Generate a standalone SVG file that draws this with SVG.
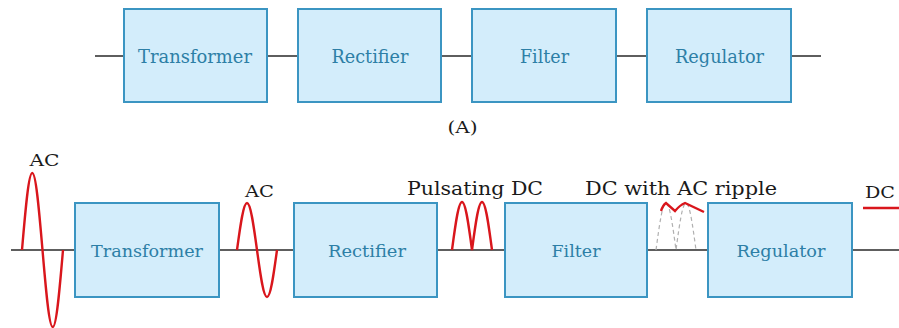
<svg xmlns="http://www.w3.org/2000/svg" width="899" height="328" viewBox="0 0 899 328">
<style>
.box{fill:#d3edfb;stroke:#3b95c2;stroke-width:2}
.bl{font-family:"DejaVu Serif","Liberation Serif",serif;font-size:18px;fill:#2d7fa6;text-anchor:middle}
.bl2{font-family:"DejaVu Serif","Liberation Serif",serif;font-size:17px;fill:#2d7fa6;text-anchor:middle}
.lbl{font-family:"DejaVu Serif","Liberation Serif",serif;font-size:18px;fill:#1a1a1a;text-anchor:middle}
.sm{font-size:16px}
.wire{stroke:#2a2a2a;stroke-width:1.6;fill:none}
.wave{stroke:#d9161c;stroke-width:2.4;fill:none}
.dash{stroke:#b0b0b0;stroke-width:1.2;stroke-dasharray:4 3;fill:none}
</style>
<rect width="899" height="328" fill="#ffffff"/>
<g id="connectors">
<path class="wire" d="M95,56H124M267,56H298M441,56H472M616,56H647M791,56H821"/>
<path class="wire" d="M11,250H75M219,250H294M437,250H505M647,250H708M852,250H899"/>
</g>
<g id="top-transformer"><rect class="box" x="124" y="9" width="143" height="93"/><text class="bl" x="195" y="63" textLength="114" lengthAdjust="spacingAndGlyphs">Transformer</text></g>
<g id="top-rectifier"><rect class="box" x="298" y="9" width="143" height="93"/><text class="bl" x="370" y="63" textLength="77" lengthAdjust="spacingAndGlyphs">Rectifier</text></g>
<g id="top-filter"><rect class="box" x="472" y="9" width="144" height="93"/><text class="bl" x="544.5" y="63" textLength="49" lengthAdjust="spacingAndGlyphs">Filter</text></g>
<g id="top-regulator"><rect class="box" x="647" y="9" width="144" height="93"/><text class="bl" x="719.5" y="63" textLength="89" lengthAdjust="spacingAndGlyphs">Regulator</text></g>
<text class="lbl sm" x="462.5" y="133" textLength="30" lengthAdjust="spacingAndGlyphs">(A)</text>
<g id="bottom-transformer"><rect class="box" x="75" y="203" width="144" height="94"/><text class="bl2" x="147" y="257" textLength="112" lengthAdjust="spacingAndGlyphs">Transformer</text></g>
<g id="bottom-rectifier"><rect class="box" x="294" y="203" width="143" height="94"/><text class="bl2" x="367" y="257" textLength="78" lengthAdjust="spacingAndGlyphs">Rectifier</text></g>
<g id="bottom-filter"><rect class="box" x="505" y="203" width="142" height="94"/><text class="bl2" x="576" y="257" textLength="49" lengthAdjust="spacingAndGlyphs">Filter</text></g>
<g id="bottom-regulator"><rect class="box" x="708" y="203" width="144" height="94"/><text class="bl2" x="781" y="257" textLength="89" lengthAdjust="spacingAndGlyphs">Regulator</text></g>
<g id="waveforms">
<path class="wave" d="M22,250C25.43,209.6 28.54,173 32.25,173C35.96,173 39.07,209.6 42.5,250C45.93,290.4 49.04,327 52.75,327C56.46,327 59.57,290.4 63,250"/>
<path class="wave" d="M237,250C240.34,225.3 243.39,203 247,203C250.61,203 253.66,225.3 257,250C260.34,274.7 263.39,297 267,297C270.61,297 273.66,274.7 277,250"/>
<path class="wave" d="M452,250C455.34,224.8 458.39,202 462,202C465.61,202 468.66,224.8 472,250C475.34,224.8 478.39,202 482,202C485.61,202 488.66,224.8 492,250"/>
<path class="dash" d="M656,250C659.34,225.3 662.39,203 666,203C669.61,203 672.66,225.3 676,250C679.34,225.3 682.39,203 686,203C689.61,203 692.66,225.3 696,250"/>
<path class="wave" d="M661,211Q663,205 666,203L675,211Q680,205 685,203L704,212"/>
<path class="wave" d="M863,208H899"/>
</g>
<g id="labels">
<text class="lbl sm" x="44.5" y="166" textLength="30" lengthAdjust="spacingAndGlyphs">AC</text>
<text class="lbl sm" x="259.5" y="197" textLength="29" lengthAdjust="spacingAndGlyphs">AC</text>
<text class="lbl" x="475" y="195" textLength="136" lengthAdjust="spacingAndGlyphs">Pulsating DC</text>
<text class="lbl" x="681" y="195" textLength="192" lengthAdjust="spacingAndGlyphs">DC with AC ripple</text>
<text class="lbl sm" x="880" y="198" textLength="30" lengthAdjust="spacingAndGlyphs">DC</text>
</g>
</svg>
